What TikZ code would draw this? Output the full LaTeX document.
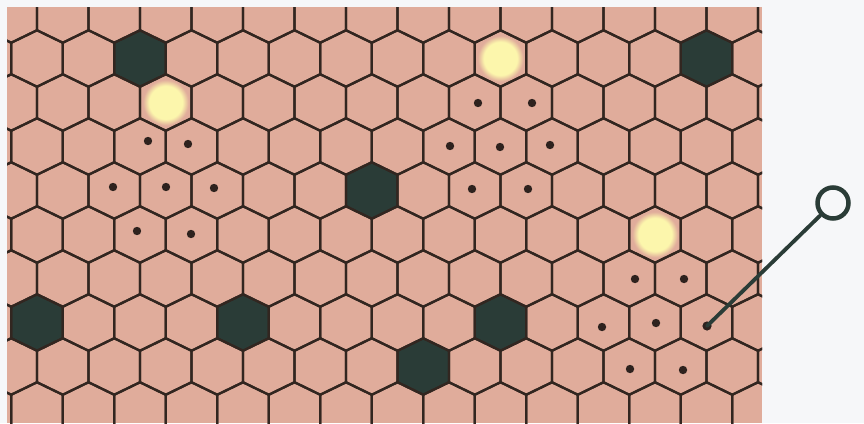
\documentclass[tikz,border=0pt]{standalone}
\definecolor{paper}{RGB}{246,247,249}
\definecolor{skin}{RGB}{224,172,155}
\definecolor{cellline}{RGB}{50,38,32}
\definecolor{darkcell}{RGB}{42,60,55}
\definecolor{glow}{RGB}{252,246,172}
\definecolor{dotc}{RGB}{46,34,30}
\pgfdeclareradialshading{glowshade}{\pgfpointorigin}{color(0bp)=(glow); color(16bp)=(glow); color(22bp)=(skin); color(50bp)=(skin)}
% one cell, drawn from its centre
\newcommand{\hexcell}{++(0,-28.25) -- ++(25.75,12.5) -- ++(0,31.5) -- ++(-25.75,12.5) -- ++(-25.75,-12.5) -- ++(0,-31.5) -- cycle}
\begin{document}
\begin{tikzpicture}[x=1pt, y=-1pt,
  grid/.style={draw=cellline, line width=2.3pt, line join=round},
  dead/.style={fill=darkcell},
  spot/.style={fill=dotc},
  probe/.style={circle, draw=darkcell, line width=4.5pt, fill=paper, minimum size=31pt, inner sep=0pt},
  pointer/.style={draw=darkcell, line width=3.8pt, line cap=round}]
 \useasboundingbox (0,0) rectangle (864,423);
 \fill[paper] (0,0) rectangle (864,423);
 \fill[skin] (7,7) rectangle (762,423);
 \begin{scope}
  \clip (7,7) rectangle (762,423);
  % dark cells
  \foreach \row/\col in {1/2, 1/13, 4/7, 7/0, 7/4, 7/9, 8/8} {
   \pgfmathsetmacro{\cx}{11.25+51.5*\col+25.75*mod(\row,2)}
   \pgfmathsetmacro{\cy}{14.5+44*\row}
   \fill[dead] (\cx,\cy) \hexcell;
  }
  % bright spots
  \foreach \row/\col in {2/3, 1/9, 5/12} {
   \pgfmathsetmacro{\cx}{11.25+51.5*\col+25.75*mod(\row,2)}
   \pgfmathsetmacro{\cy}{14.5+44*\row}
   \shade[shading=glowshade] (\cx,\cy) circle (26pt);
  }
  % the grid
  \foreach \row in {0,...,9} {
   \foreach \col in {-1,...,15} {
    \pgfmathsetmacro{\cx}{11.25+51.5*\col+25.75*mod(\row,2)}
    \pgfmathsetmacro{\cy}{14.5+44*\row}
    \draw[grid] (\cx,\cy) \hexcell;
   }
  }
 \end{scope}
 % dots
 \foreach \x/\y in {148/141, 188/144, 113/187, 166/187, 214/188, 137/231, 191/234,
                    478/103, 532/103, 450/146, 500/147, 550/145, 472/189, 528/189,
                    635/279, 684/279, 602/327, 656/323, 630/369, 683/370}
  \fill[spot] (\x,\y) circle (4.2pt);
 \coordinate (tip) at (707,326);
 \fill[spot] (tip) circle (4.6pt);
 \node[probe] (probe) at (833,203) {};
 \draw[pointer] (tip) -- (probe);
\end{tikzpicture}
\end{document}
